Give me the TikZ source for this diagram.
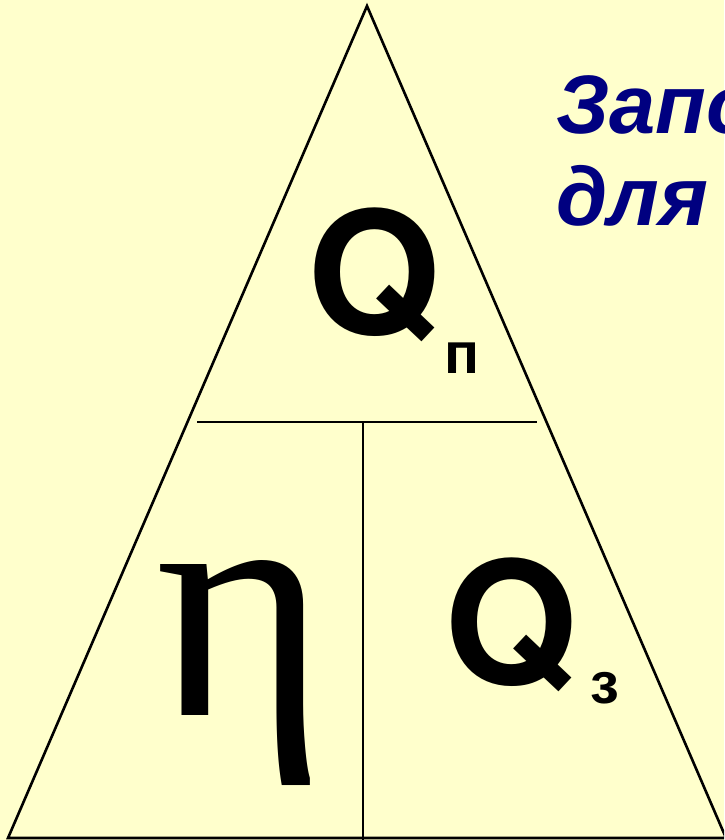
\documentclass[tikz,border=0pt]{standalone}
\usepackage{fontspec}
\setmainfont{Liberation Sans}
\newfontfamily\serifgr{Liberation Serif}
\newfontfamily\heros{TeX Gyre Heros}
\definecolor{bgyellow}{RGB}{255,255,204}
\definecolor{navyblue}{RGB}{0,0,128}
\begin{document}
\begin{tikzpicture}[x=1pt,y=-1pt,
  edge/.style={line width=2.6pt,line join=miter,black},
  divider/.style={line width=2.3pt,black},
  bigq/.style={inner sep=0pt,anchor=base west,font=\fontsize{171}{171}\selectfont\heros\bfseries},
  subq/.style={inner sep=0pt,anchor=base west,font=\fontsize{58}{58}\selectfont\bfseries},
  title/.style={inner sep=0pt,anchor=base west,text=navyblue,font=\fontsize{83}{83}\selectfont\bfseries\itshape}]
\useasboundingbox (0,0) rectangle (724,840);
\clip (0,0) rectangle (724,840);
\fill[bgyellow] (0,0) rectangle (724,840);
\coordinate (apex) at (367,6);
\coordinate (bl) at (8,838);
\coordinate (br) at (726,838);
\coordinate (hl) at (197,422);
\coordinate (hr) at (537,422);
\coordinate (vt) at (363,422);
\coordinate (vb) at (363,840);
\draw[edge] (apex) -- (bl) -- (br) -- cycle;
\draw[divider] (hl) -- (hr);
\draw[divider] (vt) -- (vb);
\node[bigq] (q1) at (307,334) {Q};
\node[subq] (s1) at (444,373) {п};
\node[inner sep=0pt,anchor=base west,font=\fontsize{329}{329}\selectfont\serifgr] (eta) at (155,715) {η};
\node[bigq] (q2) at (444,684) {Q};
\node[subq] (s2) at (590,703) {з};
\node[title] (t1) at (556,133) {Запомните формулу};
\node[title] (t2) at (556,225) {для};
\end{tikzpicture}
\end{document}
